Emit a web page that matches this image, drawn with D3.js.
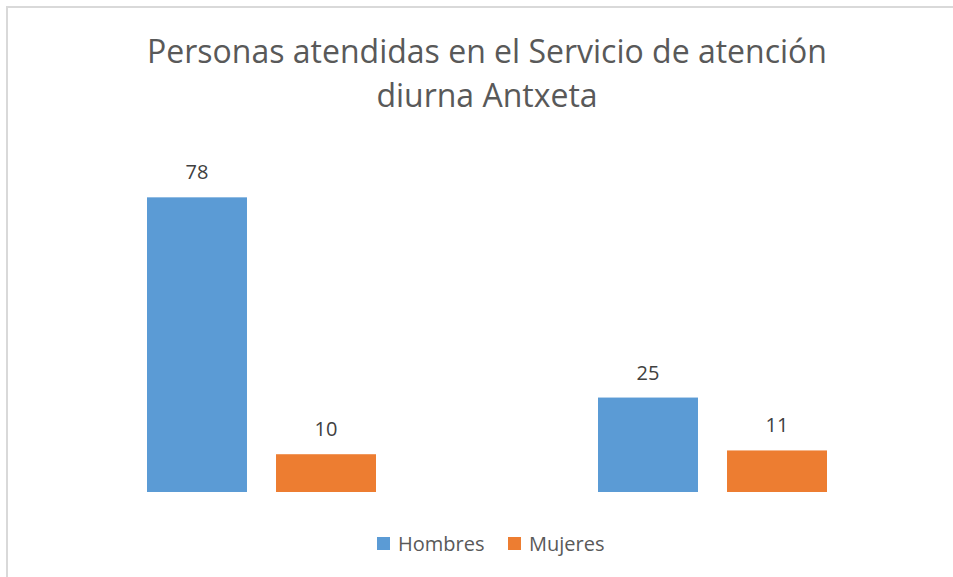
<!DOCTYPE html>
<html>
<head>
<meta charset="utf-8">
<script src="https://cdn.jsdelivr.net/npm/d3@7"></script>
<style>
  body { margin: 0; background: #fff; }
  svg { display: block; font-family: "Open Sans", sans-serif; }
</style>
</head>
<body>
<script>
// chart data
const groups = ["Grupo 1", "Grupo 2"];
const series = ["Hombres", "Mujeres"];
const hombres = [78, 25];
const mujeres = [10, 11];
const colors = ["#5b9bd5", "#ed7d31"];
const titleLines = ["Personas atendidas en el Servicio de atención", "diurna Antxeta"];

const width = 953, height = 577;
const plot = { left: 36, right: 938, top: 152, bottom: 492 };

const svg = d3.select("body").append("svg")
  .attr("width", width)
  .attr("height", height);

// frame (only top and left edges are visible in the crop)
svg.append("path")
  .attr("d", "M7,577V7H953")
  .attr("fill", "none")
  .attr("stroke", "#d9d9d9")
  .attr("stroke-width", 2);

svg.append("text")
  .attr("x", 487)
  .attr("y", 63)
  .attr("text-anchor", "middle")
  .attr("font-size", 32)
  .attr("fill", "#595959")
  .selectAll("tspan")
  .data(titleLines)
  .enter()
  .append("tspan")
  .attr("x", 487)
  .attr("dy", (d, i) => i === 0 ? 0 : 44)
  .text(d => d);

const x0 = d3.scaleBand()
  .domain(groups)
  .range([plot.left, plot.right]);

const x1 = d3.scaleBand()
  .domain(series)
  .range([111, 340])
  .paddingInner(0.225);

const y = d3.scaleLinear()
  .domain([0, 90])
  .range([plot.bottom, plot.top]);

const rows = groups.map((g, i) => ({
  group: g,
  values: [
    { key: series[0], value: hombres[i] },
    { key: series[1], value: mujeres[i] }
  ]
}));

const color = d3.scaleOrdinal().domain(series).range(colors);

const g = svg.selectAll("g.group")
  .data(rows)
  .enter()
  .append("g")
  .attr("class", "group")
  .attr("transform", d => "translate(" + x0(d.group) + ",0)");

g.selectAll("rect")
  .data(d => d.values)
  .enter()
  .append("rect")
  .attr("x", d => x1(d.key))
  .attr("y", d => y(d.value))
  .attr("width", x1.bandwidth())
  .attr("height", d => y(0) - y(d.value))
  .attr("fill", d => color(d.key));

g.selectAll("text")
  .data(d => d.values)
  .enter()
  .append("text")
  .attr("x", d => x1(d.key) + x1.bandwidth() / 2)
  .attr("y", d => y(d.value) - 18)
  .attr("text-anchor", "middle")
  .attr("font-size", 20)
  .attr("fill", "#404040")
  .text(d => d.value);

// legend
const legend = svg.append("g").attr("class", "legend");
const legendX = [377, 508];
series.forEach((s, i) => {
  legend.append("rect")
    .attr("x", legendX[i])
    .attr("y", 537)
    .attr("width", 13)
    .attr("height", 13)
    .attr("fill", color(s));
  legend.append("text")
    .attr("x", legendX[i] + 21)
    .attr("y", 551)
    .attr("font-size", 20)
    .attr("fill", "#595959")
    .text(s);
});
</script>
</body>
</html>
